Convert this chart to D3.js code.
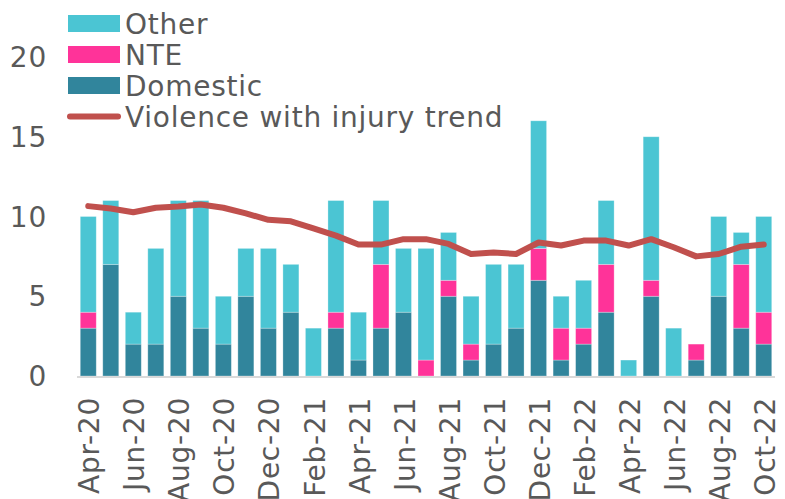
<html>
  <head>
    <meta charset="UTF-8">
    <style>
      body { margin: 0; background: #fff; }
      text { font-family: "DejaVu Sans", Verdana, sans-serif; fill: #595959; letter-spacing: 0.75px; }
    </style>
  </head>
  <body>
    <script src="https://d3js.org/d3.v7.min.js"></script>
    <script>

var width = 785;
var height = 499;

// data
var months = ["Apr-20","May-20","Jun-20","Jul-20","Aug-20","Sep-20","Oct-20","Nov-20","Dec-20",
              "Jan-21","Feb-21","Mar-21","Apr-21","May-21","Jun-21","Jul-21","Aug-21","Sep-21",
              "Oct-21","Nov-21","Dec-21","Jan-22","Feb-22","Mar-22","Apr-22","May-22","Jun-22",
              "Jul-22","Aug-22","Sep-22","Oct-22"];
var tickLabels = ["Apr-20","Jun-20","Aug-20","Oct-20","Dec-20","Feb-21","Apr-21","Jun-21",
                  "Aug-21","Oct-21","Dec-21","Feb-22","Apr-22","Jun-22","Aug-22","Oct-22"];
var domestic = [3,7,2,2,5,3,2,5,3,4,0,3,1,3,4,0,5,1,2,3,6,1,2,4,0,5,0,1,5,3,2];
var nte      = [1,0,0,0,0,0,0,0,0,0,0,1,0,4,0,1,1,1,0,0,2,2,1,3,0,1,0,1,0,4,2];
var other    = [6,4,2,6,6,8,3,3,5,3,3,7,3,4,4,7,3,3,5,4,8,2,3,4,1,9,3,0,5,2,6];
var trend    = [10.65,10.5,10.27,10.55,10.62,10.75,10.55,10.2,9.79,9.7,9.25,8.8,8.24,8.24,8.58,
                8.58,8.28,7.65,7.74,7.65,8.37,8.18,8.49,8.49,8.18,8.58,8.07,7.5,7.65,8.11,8.24];
var yTicks = [0,5,10,15,20];

var series = [
  { key: "Domestic", color: "#31859C", values: domestic },
  { key: "NTE",      color: "#FF3399", values: nte },
  { key: "Other",    color: "#4BC5D3", values: other }
];

var svg = d3.select("body").append("svg")
    .attr("width", width).attr("height", height);

var x = d3.scaleBand()
    .domain(months)
    .range([77, 775])
    .paddingInner(0.29)
    .paddingOuter(0.145);

var y = d3.scaleLinear()
    .domain([0, 20])
    .range([376, 57]);

// stack table
var table = months.map(function(m, i) {
    var row = { month: m };
    series.forEach(function(s) { row[s.key] = s.values[i]; });
    return row;
});
var stacked = d3.stack().keys(series.map(function(s) { return s.key; }))(table);

// y labels
svg.append("g").selectAll("text")
    .data(yTicks).enter().append("text")
    .attr("x", 47)
    .attr("y", function(d) { return y(d); })
    .attr("dy", "0.36em")
    .attr("text-anchor", "end")
    .style("font-size", "28px")
    .text(function(d) { return d; });

// bars
svg.append("g").selectAll("g")
    .data(stacked).enter().append("g")
    .attr("fill", function(d, i) { return series[i].color; })
  .selectAll("rect")
    .data(function(d) { return d; })
    .enter().append("rect")
    .filter(function(d) { return d[1] > d[0]; })
    .attr("x", function(d) { return x(d.data.month); })
    .attr("y", function(d) { return y(d[1]); })
    .attr("width", x.bandwidth())
    .attr("height", function(d) { return y(d[0]) - y(d[1]); })
    .attr("stroke", "rgba(255,255,255,0.35)")
    .attr("stroke-width", 0.8);

// baseline
svg.append("line")
    .attr("x1", 77).attr("x2", 775)
    .attr("y1", y(0) + 1).attr("y2", y(0) + 1)
    .attr("stroke", "#D9D9D9")
    .attr("stroke-width", 2);

// trend line
var line = d3.line()
    .x(function(d, i) { return x(months[i]) + x.bandwidth() / 2; })
    .y(function(d) { return y(d); });

svg.append("path")
    .datum(trend)
    .attr("d", line)
    .attr("fill", "none")
    .attr("stroke", "#C0504D")
    .attr("stroke-width", 6)
    .attr("stroke-linecap", "round")
    .attr("stroke-linejoin", "round");

// x labels
svg.append("g").selectAll("text")
    .data(tickLabels).enter().append("text")
    .attr("transform", function(d) {
        return "translate(" + (x(d) + x.bandwidth() / 2 + 1) + ",397) rotate(-90)";
    })
    .attr("dy", "0.36em")
    .attr("text-anchor", "end")
    .style("font-size", "28px")
    .text(function(d) { return d; });

// legend
var legendItems = [
  { label: "Other", color: "#4BC5D3", type: "rect" },
  { label: "NTE", color: "#FF3399", type: "rect" },
  { label: "Domestic", color: "#31859C", type: "rect" },
  { label: "Violence with injury trend", color: "#C0504D", type: "line" }
];

var legend = svg.append("g").selectAll("g")
    .data(legendItems).enter().append("g")
    .attr("transform", function(d, i) { return "translate(68," + (23.5 + i * 31) + ")"; });

legend.filter(function(d) { return d.type == "rect"; }).append("rect")
    .attr("x", 0).attr("y", -8.5)
    .attr("width", 52).attr("height", 17)
    .attr("fill", function(d) { return d.color; });

legend.filter(function(d) { return d.type == "line"; }).append("line")
    .attr("x1", 2).attr("x2", 50)
    .attr("y1", 0).attr("y2", 0)
    .attr("stroke", function(d) { return d.color; })
    .attr("stroke-width", 6)
    .attr("stroke-linecap", "round");

legend.append("text")
    .attr("x", 57)
    .attr("y", 0)
    .attr("dy", "0.36em")
    .style("font-size", "28px")
    .text(function(d) { return d.label; });

    </script>
  </body>
</html>
